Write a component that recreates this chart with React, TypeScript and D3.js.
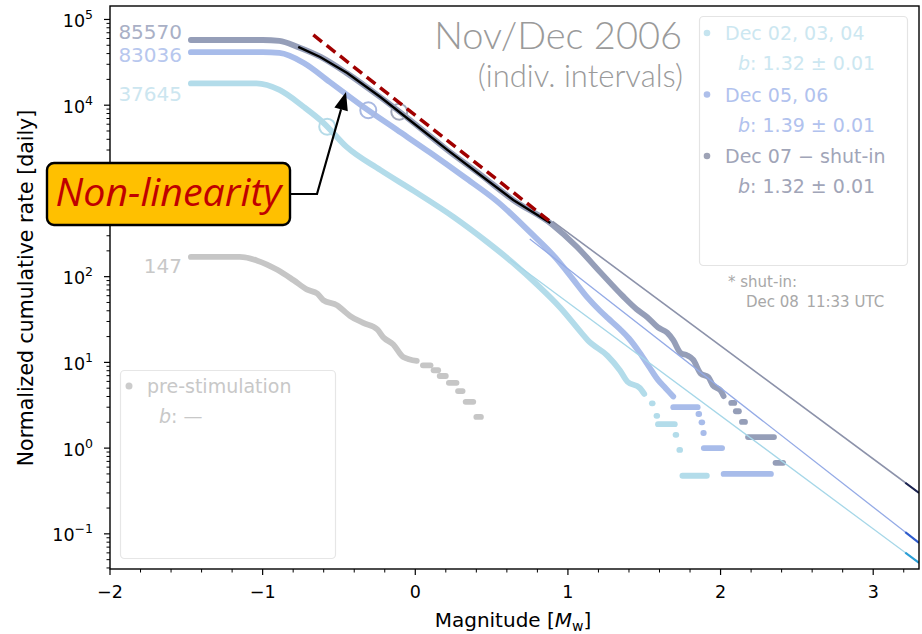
import React from "react";
import * as d3 from "d3";

type Pt = [number, number];
type Step = [number, number, number];

const W = 922;
const H = 634;

const magnitudeTicks = [-2, -1, 0, 1, 2, 3];
const rateExponents = [-1, 0, 1, 2, 3, 4, 5];
// decade label sitting under the annotation box is left out
const hiddenRateLabels = [3];

// Cumulative event counts N(>=M), one list per interval: [magnitude, count]
const preStimCurve: Pt[] = [
  [-1.47, 147], [-1.15, 147], [-1.035, 133], [-0.904, 104], [-0.799, 79], [-0.708, 61],
  [-0.642, 55], [-0.603, 46], [-0.511, 40], [-0.472, 35], [-0.426, 30], [-0.341, 25],
  [-0.249, 21], [-0.21, 17], [-0.144, 14], [-0.079, 10], [0.01, 9],
];
const preStimSteps: Step[] = [
  [0.05, 0.1, 8], [0.12, 0.15, 7], [0.16, 0.2, 6], [0.22, 0.27, 5], [0.28, 0.31, 4],
  [0.33, 0.38, 3], [0.4, 0.43, 2],
];

const dec02Curve: Pt[] = [
  [-1.47, 37645], [-1.04, 37645], [-0.89, 31600], [-0.73, 20000], [-0.6, 13000],
  [-0.45, 6840], [-0.23, 3690], [-0.01, 2100], [0.25, 1045], [0.47, 534], [0.64, 304],
  [0.8, 168], [0.95, 91], [1.09, 46], [1.13, 38], [1.26, 25], [1.34, 17], [1.39, 12.5],
  [1.47, 10.6], [1.5, 9],
];
const dec02Steps: Step[] = [
  [1.55, 1.555, 7], [1.58, 1.585, 5], [1.59, 1.7, 4], [1.705, 1.71, 3], [1.73, 1.735, 2],
  [1.75, 1.91, 1],
];

const dec05Curve: Pt[] = [
  [-1.47, 83036], [-1.0, 83036], [-0.89, 81300], [-0.73, 62200], [-0.56, 37300],
  [-0.34, 19100], [-0.12, 10300], [0.1, 5550], [0.32, 2910], [0.54, 1490], [0.75, 665],
  [0.92, 331], [1.03, 190], [1.13, 113], [1.21, 80], [1.26, 66], [1.34, 49], [1.4, 38],
  [1.47, 26], [1.53, 18], [1.59, 12.5], [1.64, 10], [1.69, 8],
];
const dec05Steps: Step[] = [
  [1.69, 1.85, 6], [1.855, 1.86, 5], [1.875, 1.88, 4], [1.887, 1.89, 3], [1.89, 2.01, 2],
  [2.02, 2.33, 1],
];

const dec07Curve: Pt[] = [
  [-1.47, 85570], [-1.0, 85570], [-0.89, 83400], [-0.77, 71000], [-0.62, 54300],
  [-0.45, 35300], [-0.23, 18500], [-0.01, 9230], [0.21, 4470], [0.43, 2280], [0.64, 1170],
  [0.9, 596], [1.06, 330], [1.21, 169], [1.36, 88], [1.45, 62], [1.52, 50], [1.59, 38],
  [1.65, 33], [1.69, 27], [1.74, 19], [1.78, 18], [1.82, 16], [1.87, 11], [1.92, 10],
  [1.95, 8], [2.0, 7], [2.02, 6],
];
const dec07Steps: Step[] = [
  [2.07, 2.09, 5], [2.1, 2.12, 4], [2.14, 2.16, 3], [2.18, 2.35, 2], [2.36, 2.41, 1],
];

const intervalLabels = ["pre-stimulation", "Dec 02, 03, 04", "Dec 05, 06", "Dec 07 \u2212 shut-in"];
const intervalDays = [0.865, 2.1, 2.0, 1.486];
const intervalTotals = [147, 37645, 83036, 85570];
const bValues = [NaN, 1.32, 1.39, 1.32];
const bErrors = [NaN, 0.01, 0.01, 0.01];
// Gutenberg-Richter fits on the daily rate: log10 N = a - b M
const grIntercepts = [NaN, 3.018, 3.482, 3.834];
const fitFromMagnitude = [NaN, 0.62, 0.75, 0.9];
const completenessMagnitude = [NaN, -0.577, -0.308, -0.105];

// Dec 07 model curves, daily rate
const nonLinearFit: Pt[] = [
  [-0.767, 47780], [-0.623, 36530], [-0.446, 23780], [-0.229, 12480], [-0.013, 6209],
  [0.21, 3007], [0.426, 1537], [0.642, 785], [0.885, 423],
];
const linearTrend: Pt[] = [[-0.668, 65960], [0.904, 412]];

const curves = [preStimCurve, dec02Curve, dec05Curve, dec07Curve];
const steps = [preStimSteps, dec02Steps, dec05Steps, dec07Steps];

const curveColors = ["#c6c6c6", "#b3dcea", "#a8bcea", "#959eb8"];
const labelColors = ["#c8c8c8", "#cce6f0", "#b7c7ee", "#a9b0c6"];
const legendTextColors = ["#c8c8c8", "#cce7f1", "#b1c2ee", "#a1a5b8"];
const legendDotColors = ["#cccccc", "#c5e4ef", "#aebfea", "#9ea3b6"];
const fitColors = ["", "#a6d7e8", "#94aae6", "#8c92aa"];
const fitTipColors = ["", "#2c9fd6", "#2f5ccc", "#1c2350"];
const circleColors = ["", "#b5dbe8", "#a9b9e2", "#a3a8ba"];
const countLabelBaselines = [273, 101, 62, 39];

const FONT = "'DejaVu Sans', sans-serif";
const TITLE_FONT = "Lato, 'Open Sans', sans-serif";

const x = d3.scaleLinear().domain([-2, 3.3]).range([110, 919]);
const y = d3.scaleLog().domain([Math.pow(10, -1.41), Math.pow(10, 5.157)]).range([569, 6]);

function rateAt(curve: Pt[], days: number, m: number): number {
  for (let i = 0; i < curve.length - 1; i++) {
    const [m0, n0] = curve[i];
    const [m1, n1] = curve[i + 1];
    if (m >= m0 && m <= m1) {
      const t = (m - m0) / (m1 - m0);
      return Math.pow(10, Math.log10(n0) + t * (Math.log10(n1) - Math.log10(n0))) / days;
    }
  }
  return curve[curve.length - 1][1] / days;
}

export default function App() {
  const xMin = x.domain()[0];
  const xMax = x.domain()[1];
  const [yLo, yHi] = y.domain();

  const majorX = magnitudeTicks;
  const minorX: number[] = [];
  for (let v = -2; v <= 3.3001; v += 0.2) {
    const r = Math.round(v * 10) / 10;
    if (!majorX.includes(r)) minorX.push(r);
  }
  const minorY: number[] = [];
  for (let e = -2; e <= 5; e++) {
    for (let k = 2; k <= 9; k++) {
      const v = k * Math.pow(10, e);
      if (v >= yLo && v <= yHi) minorY.push(v);
    }
  }

  const plotLeft = x(xMin);
  const plotRight = x(xMax);
  const plotTop = y(yHi);
  const plotBottom = y(yLo);

  const lineFor = (days: number) =>
    d3
      .line<Pt>()
      .x((d) => x(d[0]))
      .y((d) => y(d[1] / days))
      .curve(d3.curveMonotoneX);

  const rateLine = d3
    .line<Pt>()
    .x((d) => x(d[0]))
    .y((d) => y(d[1]));

  const grPoints = (i: number, m0: number, m1: number): Pt[] => [
    [m0, Math.pow(10, grIntercepts[i] - bValues[i] * m0)],
    [m1, Math.pow(10, grIntercepts[i] - bValues[i] * m1)],
  ];

  // annotation arrow geometry
  const tip = [346, 92];
  const elbow = [317, 194];
  const dx = tip[0] - elbow[0];
  const dy = tip[1] - elbow[1];
  const len = Math.hypot(dx, dy);
  const ux = dx / len;
  const uy = dy / len;
  const headLen = 18;
  const headHalf = 7;
  const bx = tip[0] - ux * headLen;
  const by = tip[1] - uy * headLen;
  const head = [
    [tip[0], tip[1]],
    [bx - uy * headHalf, by + ux * headHalf],
    [bx + uy * headHalf, by - ux * headHalf],
  ]
    .map((p) => p.join(","))
    .join(" ");

  const legendRows = [1, 2, 3];

  return (
    <svg
      width={W}
      height={H}
      viewBox={`0 0 ${W} ${H}`}
      style={{ position: "absolute", left: 0, top: 0, background: "#fff" }}
      fontFamily={FONT}
    >
      <rect x={0} y={0} width={W} height={H} fill="#ffffff" />

      <defs>
        <clipPath id="plot-clip">
          <rect x={plotLeft} y={plotTop} width={plotRight - plotLeft} height={plotBottom - plotTop} />
        </clipPath>
      </defs>

      <g clipPath="url(#plot-clip)">
        {/* thick cumulative distributions */}
        {curves.map((c, i) => (
          <g key={`c${i}`}>
            <path
              d={lineFor(intervalDays[i])(c) || ""}
              fill="none"
              stroke={curveColors[i]}
              strokeWidth={5.8}
              strokeLinecap="round"
              strokeLinejoin="round"
            />
            {steps[i].map((s, j) => (
              <line
                key={j}
                x1={x(s[0])}
                x2={x(s[1])}
                y1={y(s[2] / intervalDays[i])}
                y2={y(s[2] / intervalDays[i])}
                stroke={curveColors[i]}
                strokeWidth={5.8}
                strokeLinecap="round"
              />
            ))}
          </g>
        ))}

        {/* Gutenberg-Richter fits */}
        {[1, 2, 3].map((i) => (
          <g key={`f${i}`}>
            <path
              d={rateLine(grPoints(i, fitFromMagnitude[i], xMax)) || ""}
              fill="none"
              stroke={fitColors[i]}
              strokeWidth={i === 3 ? 1.6 : 1.3}
            />
            <path
              d={rateLine(grPoints(i, 3.21, xMax)) || ""}
              fill="none"
              stroke={fitTipColors[i]}
              strokeWidth={2}
            />
          </g>
        ))}

        {/* completeness markers */}
        {[1, 2, 3].map((i) => (
          <circle
            key={`mc${i}`}
            cx={x(completenessMagnitude[i])}
            cy={y(rateAt(curves[i], intervalDays[i], completenessMagnitude[i]))}
            r={8}
            fill="none"
            stroke={circleColors[i]}
            strokeWidth={2}
          />
        ))}

        <path d={rateLine(nonLinearFit) || ""} fill="none" stroke="#000" strokeWidth={2.4} />
        <path
          d={rateLine(linearTrend) || ""}
          fill="none"
          stroke="#a00000"
          strokeWidth={3.5}
          strokeDasharray="11,6"
        />
      </g>

      {/* frame */}
      <rect
        x={plotLeft}
        y={plotTop}
        width={plotRight - plotLeft}
        height={plotBottom - plotTop}
        fill="none"
        stroke="#000"
        strokeWidth={1.4}
      />

      {/* x axis */}
      {majorX.map((v) => (
        <g key={`xt${v}`}>
          <line x1={x(v)} x2={x(v)} y1={plotBottom} y2={plotBottom + 6} stroke="#000" strokeWidth={1.2} />
          <text x={x(v)} y={598} fontSize={17.5} textAnchor="middle" fill="#000">
            {v < 0 ? `\u2212${Math.abs(v)}` : `${v}`}
          </text>
        </g>
      ))}
      {minorX.map((v) => (
        <line key={`xm${v}`} x1={x(v)} x2={x(v)} y1={plotBottom} y2={plotBottom + 3.5} stroke="#000" strokeWidth={1} />
      ))}
      <text x={513} y={627} fontSize={20} textAnchor="middle" fill="#000">
        Magnitude [<tspan fontStyle="italic">M</tspan>
        <tspan fontSize={14} dy={4}>w</tspan>
        <tspan dy={-4}>]</tspan>
      </text>

      {/* y axis */}
      {rateExponents.map((e) => (
        <g key={`yt${e}`}>
          <line x1={plotLeft - 6} x2={plotLeft} y1={y(Math.pow(10, e))} y2={y(Math.pow(10, e))} stroke="#000" strokeWidth={1.2} />
          {!hiddenRateLabels.includes(e) && (
            <text x={93} y={y(Math.pow(10, e)) + 7.5} fontSize={17.5} textAnchor="end" fill="#000">
              10
              <tspan fontSize={12.5} dy={-8}>{e < 0 ? `\u2212${Math.abs(e)}` : `${e}`}</tspan>
            </text>
          )}
        </g>
      ))}
      {minorY.map((v) => (
        <line key={`ym${v}`} x1={plotLeft - 3.5} x2={plotLeft} y1={y(v)} y2={y(v)} stroke="#000" strokeWidth={1} />
      ))}
      <text transform="translate(33,288) rotate(-90)" fontSize={20.5} textAnchor="middle" fill="#000">
        Normalized cumulative rate [daily]
      </text>

      {/* total event counts */}
      {[0, 1, 2, 3].map((i) => (
        <text key={`n${i}`} x={182} y={countLabelBaselines[i]} fontSize={20} textAnchor="end" fill={labelColors[i]}>
          {intervalTotals[i]}
        </text>
      ))}

      {/* title */}
      <text x={682} y={49} fontSize={38} textAnchor="end" fill="#9a9a9a" fontFamily={TITLE_FONT} fontWeight={300}>
        Nov/Dec 2006
      </text>
      <text x={683} y={87} fontSize={31} textAnchor="end" fill="#9a9a9a" fontFamily={TITLE_FONT} fontWeight={300}>
        (indiv. intervals)
      </text>

      {/* legend, stimulation intervals */}
      <rect x={699.5} y={16.5} width={208} height={249} rx={4} fill="#fff" fillOpacity={0.8} stroke="#e4e4e4" strokeWidth={1.2} />
      {legendRows.map((i, k) => (
        <g key={`lg${i}`}>
          <circle cx={707} cy={33 + k * 61.5} r={3.3} fill={legendDotColors[i]} />
          <text x={725} y={40 + k * 61.5} fontSize={19} fill={legendTextColors[i]}>
            {intervalLabels[i]}
          </text>
          <text x={738} y={70 + k * 61.5} fontSize={19} fill={legendTextColors[i]}>
            <tspan fontStyle="italic">b</tspan>: {bValues[i].toFixed(2)} ± {bErrors[i].toFixed(2)}
          </text>
        </g>
      ))}
      <text x={728} y={287} fontSize={15} fill="#a8a8a8">
        * shut-in:
      </text>
      <text x={746} y={307} fontSize={15} fill="#a8a8a8">
        Dec 08{"\u2002"}11:33 UTC
      </text>

      {/* legend, pre-stimulation */}
      <rect x={120.5} y={370.5} width={215} height={188} rx={4} fill="#fff" fillOpacity={0.8} stroke="#e6e6e6" strokeWidth={1.2} />
      <circle cx={129} cy={386} r={3.5} fill={legendDotColors[0]} />
      <text x={147} y={393} fontSize={19} fill={legendTextColors[0]}>
        {intervalLabels[0]}
      </text>
      <text x={159} y={423} fontSize={19} fill={legendTextColors[0]}>
        <tspan fontStyle="italic">b</tspan>: —
      </text>

      {/* annotation */}
      <polyline
        points={`290,194 ${elbow[0]},${elbow[1]} ${bx},${by}`}
        fill="none"
        stroke="#000"
        strokeWidth={2.2}
        strokeLinejoin="miter"
      />
      <polygon points={head} fill="#000" />
      <rect x={47} y={163} width={243} height={62} rx={7} fill="#ffc000" stroke="#000" strokeWidth={2.4} />
      <text
        x={168.5}
        y={206}
        fontSize={39}
        fontStyle="italic"
        textAnchor="middle"
        fill="#c00000"
        fontFamily="'Open Sans', 'Liberation Sans', sans-serif"
        textLength={226}
        lengthAdjust="spacingAndGlyphs"
      >
        Non-linearity
      </text>
    </svg>
  );
}
